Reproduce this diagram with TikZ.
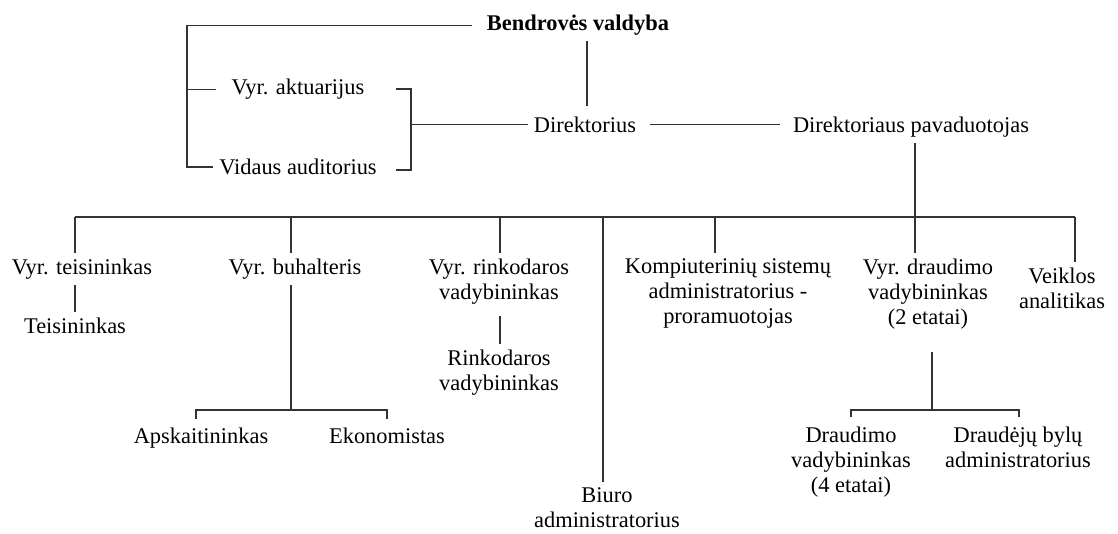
\documentclass[tikz,border=0pt]{standalone}
\usepackage{fontspec}
\setmainfont{Liberation Serif}
\begin{document}
\begin{tikzpicture}[x=1bp,y=-1bp,
  lbl/.style={font=\fontsize{22.5}{25}\selectfont, align=center, inner sep=0pt, outer sep=6bp, anchor=north},
  link/.style={draw=black!80, line width=1.2bp}]
\useasboundingbox[fill=white] (0,0) rectangle (1118,534);
% nodes (north anchor = first baseline - 21)
\node[lbl,font=\fontsize{22.5}{25}\selectfont\bfseries] (bv) at (578,9) {Bendrovės valdyba};
\node[lbl] (akt) at (298,73) {Vyr. aktuarijus};
\node[lbl] (aud) at (298,153) {Vidaus auditorius};
\node[lbl] (dir) at (585,111) {Direktorius};
\node[lbl] (pav) at (911,111) {Direktoriaus pavaduotojas};
\node[lbl] (teis) at (82,253) {Vyr. teisininkas};
\node[lbl] (teis2) at (75,312) {Teisininkas};
\node[lbl] (buh) at (295,253) {Vyr. buhalteris};
\node[lbl] (rink) at (499,253) {Vyr. rinkodaros\\vadybininkas};
\node[lbl] (rink2) at (499,344) {Rinkodaros\\vadybininkas};
\node[lbl] (biuro) at (607,482) {Biuro\\administratorius};
\node[lbl] (komp) at (728,253) {Kompiuterinių sistemų\\administratorius -\\proramuotojas};
\node[lbl] (dr) at (928,253) {Vyr. draudimo\\vadybininkas\\(2 etatai)};
\node[lbl] (veik) at (1062,262) {Veiklos\\analitikas};
\node[lbl] (apsk) at (201,422) {Apskaitininkas};
\node[lbl] (ekon) at (387,422) {Ekonomistas};
\node[lbl] (draud) at (851,421) {Draudimo\\vadybininkas\\(4 etatai)};
\node[lbl] (byl) at (1018,421) {Draudėjų bylų\\administratorius};
% junction coordinates
\coordinate (lt) at (187,0);
\coordinate (brT) at (396,89);
\coordinate (brB) at (396,170);
\coordinate (brM) at (411,0);
\coordinate (jT) at (75,217);
\coordinate (jB) at (291,217);
\coordinate (jR) at (500,217);
\coordinate (jO) at (603,217);
\coordinate (jK) at (715,217);
\coordinate (jD) at (915,217);
\coordinate (jV) at (1075,217);
\coordinate (b1L) at (196,410);
\coordinate (b1M) at (291,410);
\coordinate (b1R) at (387,410);
\coordinate (d2) at (932,352);
\coordinate (b2L) at (851,410);
\coordinate (b2M) at (932,410);
\coordinate (b2R) at (1019,410);
% top part
\draw[link] ([xshift=-9]bv.west) -- (lt |- bv.west) -- (lt |- aud.west) -- (aud.west);
\draw[link] (lt |- akt.west) -- ([xshift=-10]akt.west);
\draw[link] (brT) -- (brT -| brM) -- (brB -| brM) -- (brB);
\draw[link] (brM |- dir.west) -- (dir.west);
\draw[link] ([xshift=2,yshift=5]dir.north) -- ([xshift=2]dir.north |- bv.south);
\draw[link] ([xshift=8]dir.east) -- ([xshift=-7]pav.west |- dir.east);
\draw[link] (jD |- pav.south) -- (jD |- dr.north);
% bus
\draw[link] (jT) -- (jV);
\draw[link] (jT) -- (jT |- teis.north);
\draw[link] (jB) -- (jB |- buh.north);
\draw[link] (jR) -- (jR |- rink.north);
\draw[link] (jO) -- (jO |- biuro.north);
\draw[link] (jK) -- (jK |- komp.north);
\draw[link] (jV) -- (jV |- veik.north);
% second level
\draw[link] (jT |- teis.south) -- (jT |- teis2.north);
\draw[link] ([yshift=-6]jR |- rink.south) -- (jR |- rink2.north);
\draw[link] (jB |- buh.south) -- (b1M);
\draw[link] ([yshift=3]b1L |- apsk.north) -- (b1L) -- (b1R) -- ([yshift=3]b1R |- ekon.north);
\draw[link] (d2) -- (b2M);
\draw[link] ([yshift=4]b2L |- draud.north) -- (b2L) -- (b2R) -- ([yshift=4]b2R |- byl.north);
\end{tikzpicture}
\end{document}
